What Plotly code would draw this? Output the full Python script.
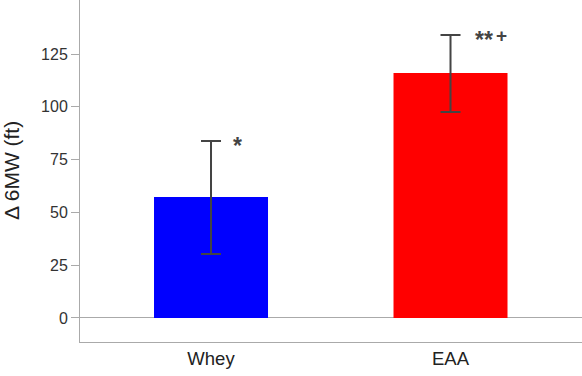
import plotly.graph_objects as go

categories = ["Whey", "EAA"]
means = [57.3, 116.0]
err_plus = [26.5, 18.0]
err_minus = [27.0, 18.5]
bar_colors = ["#0000ff", "#ff0000"]
y_ticks = [0, 25, 50, 75, 100, 125]
y_title = "Δ 6MW (ft)"

FONT = "Liberation Sans, Arial, sans-serif"

fig = go.Figure()
fig.add_trace(go.Bar(
    x=categories, y=means, width=0.476,
    marker=dict(color=bar_colors, line=dict(width=0)),
    error_y=dict(type="data", symmetric=False, array=err_plus, arrayminus=err_minus,
                 color="#444444", thickness=2, width=10),
    hoverinfo="skip",
))

# significance markers: (category index, text, size, xshift, yshift)
sig_marks = [
    (0, "*", 23, 26, -5),
    (1, "**", 23, 33, -5),
    (1, "+", 19, 50.5, 0),
]
for i, txt, sz, xs, ys in sig_marks:
    fig.add_annotation(x=categories[i], y=means[i] + err_plus[i], text="<b>" + txt + "</b>",
                       showarrow=False, xanchor="center", yanchor="middle",
                       xshift=xs, yshift=ys,
                       font=dict(size=sz, color="#444444", family=FONT))

# y-axis title placed as rotated text left of the tick labels
fig.add_annotation(xref="paper", yref="paper", x=0, y=0.5, xshift=-69, yshift=0,
                   text=y_title, textangle=-90, showarrow=False,
                   xanchor="center", yanchor="middle",
                   font=dict(size=21, color="#222222", family=FONT))

fig.update_layout(
    width=582, height=376,
    margin=dict(l=80, r=0, t=0, b=34),
    plot_bgcolor="white", paper_bgcolor="white",
    showlegend=False,
    font=dict(family=FONT, color="#333333"),
    xaxis=dict(range=[-0.547, 1.549], showline=True, linecolor="#aaaaaa", linewidth=1,
               ticks="", tickfont=dict(size=18.5, color="#222222"), showgrid=False),
    yaxis=dict(range=[-11.4, 150.6], tickvals=y_ticks, showline=True, linecolor="#aaaaaa",
               linewidth=1, ticks="outside", ticklen=8, tickcolor="#aaaaaa",
               showgrid=False, zeroline=True, zerolinecolor="#aaaaaa", zerolinewidth=1,
               tickfont=dict(size=16, color="#333333"), automargin=False),
)

fig.write_html("out.html", config={"displayModeBar": False},
               post_script="document.body.style.margin='0';document.body.style.overflow='hidden';")
